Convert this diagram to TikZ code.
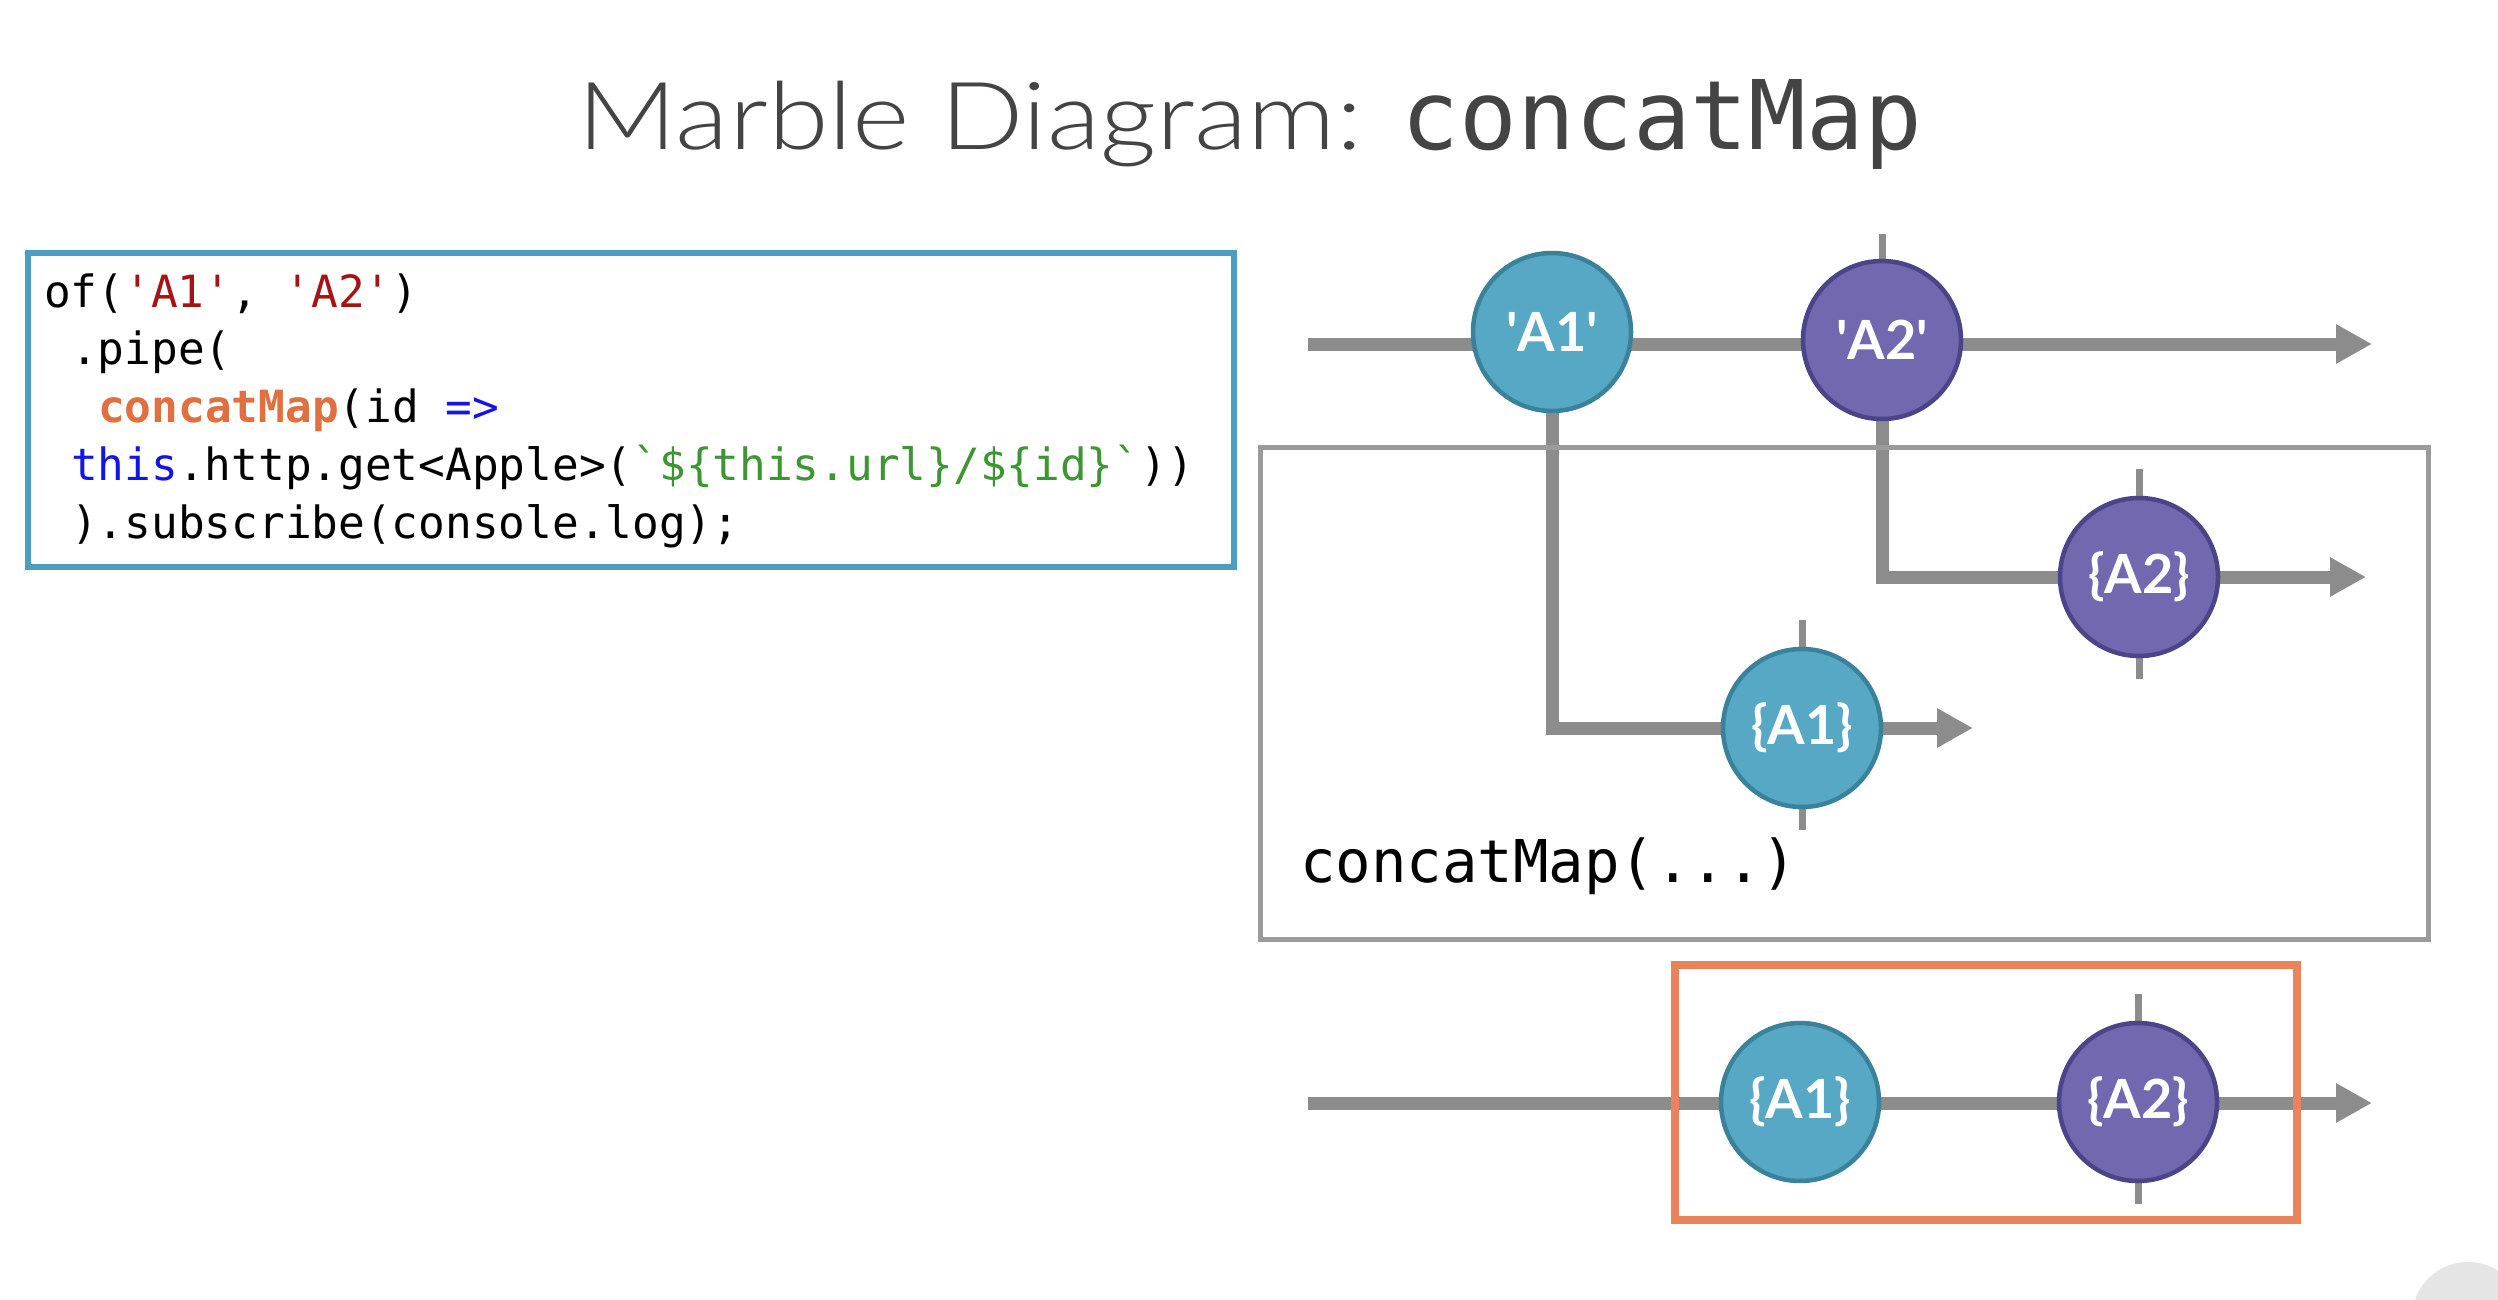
\documentclass[tikz,border=0pt]{standalone}
\usepackage{fontspec}
\usetikzlibrary{arrows.meta}
\setmonofont{DejaVu Sans Mono}
\newfontfamily\titlefont{Lato Light}[FakeStretch=1.17]
\newfontfamily\marblefont{Lato}
\definecolor{flowgray}{RGB}{140,140,140}
\definecolor{boxgray}{RGB}{155,155,155}
\definecolor{tealfill}{RGB}{86,168,196}
\definecolor{tealedge}{RGB}{58,130,153}
\definecolor{purpfill}{RGB}{113,104,176}
\definecolor{purpedge}{RGB}{76,68,136}
\definecolor{codeblue}{RGB}{77,157,190}
\definecolor{orangebox}{RGB}{232,131,90}
\definecolor{strred}{RGB}{163,21,21}
\definecolor{kwblue}{RGB}{20,20,230}
\definecolor{fnorange}{RGB}{224,112,64}
\definecolor{strgreen}{RGB}{60,150,50}
\definecolor{titlegray}{RGB}{68,68,68}
\newcommand{\myq}{\textquotesingle}
\newcommand{\mybt}{\textasciigrave}
\pgfdeclarelayer{background}
\pgfdeclarelayer{paper}
\pgfsetlayers{paper,background,main}
\begin{document}
\begin{tikzpicture}[x=1pt,y=-1pt,
  flow/.style={draw=flowgray,line width=13pt,-{Triangle[length=36pt,width=37pt]}},
  tick/.style={draw=flowgray,line width=7pt},
  marble/.style={circle,minimum size=158pt,inner sep=0pt,line width=4.5pt,text=white,
    font=\marblefont\bfseries\fontsize{54}{60}\selectfont},
  teal/.style={marble,fill=tealfill,draw=tealedge},
  purp/.style={marble,fill=purpfill,draw=purpedge},
  code/.style={anchor=base west,inner sep=0pt,font=\ttfamily\fontsize{44.4}{58}\selectfont},
  frame/.style={anchor=north west,inner sep=0pt}
]
\useasboundingbox (0,0) rectangle (2498,1300);
\begin{pgfonlayer}{paper}
\fill[white] (0,0) rectangle (2498,1300);
\begin{scope}
\clip (0,0) rectangle (2498,1300);
\fill[gray!20] (2468,1318) circle (56pt);
\end{scope}
\end{pgfonlayer}

% title
\node[anchor=base,inner sep=0pt,text=titlegray] (title) at (1250,150)
  {{\titlefont\fontsize{94}{100}\selectfont Marble Diagram: }{\ttfamily\fontsize{96}{100}\selectfont concatMap}};

% code box
\node[frame,draw=codeblue,line width=6pt,minimum width=1206pt,minimum height=314pt] (codebox) at (25,250) {};
\node[code] (c1) at (44,307) {of(\textcolor{strred}{\myq A1\myq}, \textcolor{strred}{\myq A2\myq})};
\node[code] (c2) at (71,364) {.pipe(};
\node[code] (c3) at (98,422) {\textcolor{fnorange}{\bfseries concatMap}(id \textcolor{kwblue}{=>}};
\node[code] (c4) at (71,480) {\textcolor{kwblue}{this}.http.get<Apple>(\textcolor{strgreen}{\mybt\$\{this.url\}/\$\{id\}\mybt}))};
\node[code] (c5) at (71,538) {).subscribe(console.log);};

% concatMap box
\node[frame,draw=boxgray,line width=5pt,minimum width=1168pt,minimum height=492pt] (mapbox) at (1258,445) {};
\node[anchor=base west,inner sep=0pt,font=\ttfamily\fontsize{59}{60}\selectfont] (maplabel) at (1300,882) {concatMap(...)};

% marbles
\node[teal] (A1) at (1552,332) {\myq A1\myq};
\node[purp] (A2) at (1882,340) {\myq A2\myq};
\node[teal] (B1) at (1802,728) {\{A1\}};
\node[purp] (B2) at (2139,577) {\{A2\}};
\node[teal] (C1) at (1800,1102) {\{A1\}};
\node[purp] (C2) at (2138,1102) {\{A2\}};

% result box
\node[frame,draw=orangebox,line width=8pt,minimum width=622pt,minimum height=255pt] (resbox) at (1671,961) {};

\coordinate (t0) at (1308,344);
\coordinate (t1) at (2372,344);
\coordinate (b1end) at (1973,728);
\coordinate (b2end) at (2366,577);
\coordinate (r0) at (1308,1103);
\coordinate (r1) at (2372,1103);

\begin{pgfonlayer}{background}
\draw[flow] (t0) -- (t1);
\draw[flow] (A1.center) |- (B1.center) -- (b1end);
\draw[flow] (A2.center) |- (B2.center) -- (b2end);
\draw[flow] (r0) -- (r1);
\draw[tick] (A2.center) -- ([yshift=25pt]A2.north);
\draw[tick] ([yshift=27pt]B1.north) -- ([yshift=-21pt]B1.south);
\draw[tick] ([yshift=27pt]B2.north) -- ([yshift=-21pt]B2.south);
\draw[tick] ([yshift=27pt]C2.north) -- ([yshift=-21pt]C2.south);
\end{pgfonlayer}
\end{tikzpicture}
\end{document}
